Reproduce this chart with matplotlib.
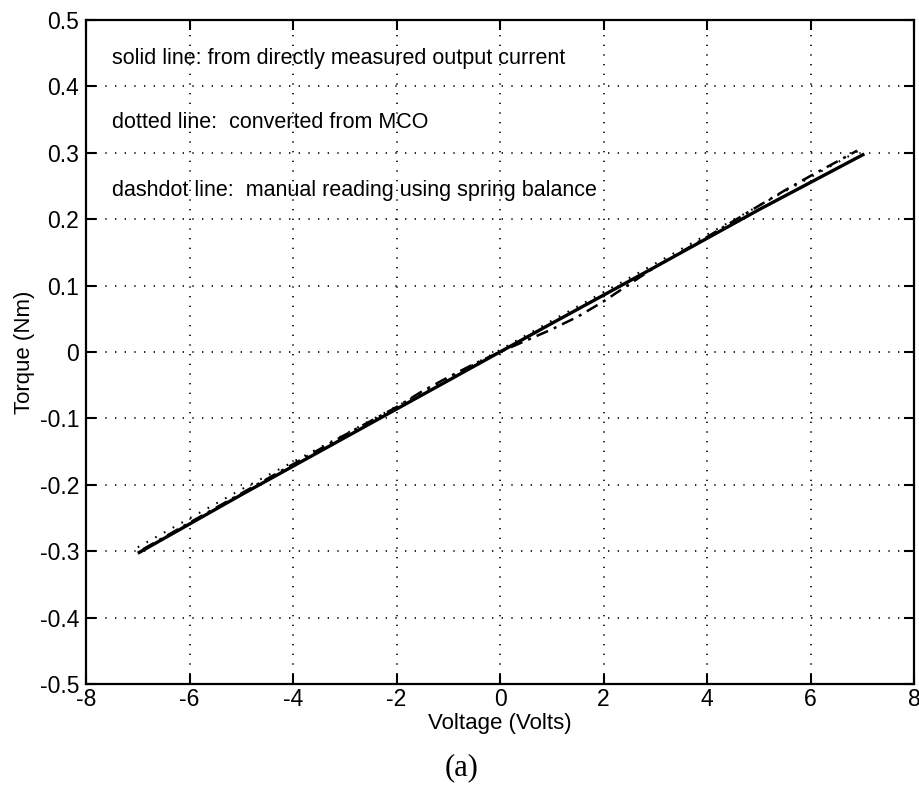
import matplotlib
matplotlib.use("Agg")
import matplotlib.pyplot as plt

# ---- data ----
solid_x = [-7.0, -5.0, -3.0, -1.0, 0.0, 1.0, 3.0, 5.0, 7.04]
solid_y = [-0.303, -0.215, -0.129, -0.043, 0.0, 0.043, 0.128, 0.214, 0.298]

dotted_x = [-7.0, -5.0, -3.0, -1.0, 0.0, 1.0, 3.0, 5.0, 7.05]
dotted_y = [-0.294, -0.207, -0.124, -0.040, 0.003, 0.047, 0.133, 0.220, 0.308]

dashdot_x = [-6.9, -6, -5, -4, -3, -2, -1.5, -1, -0.5, 0, 0.5, 1, 1.5, 2, 2.5, 3, 4, 5, 5.5, 6, 6.5, 6.9]
dashdot_y = [-0.297, -0.257, -0.213, -0.169, -0.125, -0.083, -0.059, -0.038, -0.018, 0.000,
             0.017, 0.034, 0.053, 0.076, 0.102, 0.128, 0.173, 0.220, 0.243, 0.265, 0.286, 0.303]

xticks = [-8, -6, -4, -2, 0, 2, 4, 6, 8]
xtick_labels = ['-8', '-6', '-4', '-2', '0', '2', '4', '6', '8']
yticks = [-0.5, -0.4, -0.3, -0.2, -0.1, 0, 0.1, 0.2, 0.3, 0.4, 0.5]
ytick_labels = ['-0.5', '-0.4', '-0.3', '-0.2', '-0.1', '0', '0.1', '0.2', '0.3', '0.4', '0.5']

notes = ["solid line: from directly measured output current",
         "dotted line:  converted from MCO",
         "dashdot line:  manual reading using spring balance"]
note_y = [0.442, 0.345, 0.243]

plt.rcParams['font.family'] = ['Liberation Sans', 'DejaVu Sans']
plt.rcParams['axes.unicode_minus'] = False

fig = plt.figure(figsize=(9.2, 7.9), dpi=100)
ax = fig.add_axes([0.0935, 0.134, 0.9, 0.841])

ax.plot(solid_x, solid_y, color='black', lw=2.4, solid_capstyle='butt')
ax.plot(dotted_x, dotted_y, color='black', lw=1.5, linestyle=(0, (0.8, 4.0)))
ax.plot(dashdot_x, dashdot_y, color='black', lw=1.8, linestyle=(0, (5, 2.5, 1.2, 2.5)))

ax.set_xlim(-8, 8)
ax.set_ylim(-0.5, 0.5)
ax.set_xticks(xticks)
ax.set_xticklabels(xtick_labels)
ax.set_yticks(yticks)
ax.set_yticklabels(ytick_labels)
ax.tick_params(direction='in', length=7, width=1.5, labelsize=16.5, top=True, right=True)
ax.tick_params(axis='x', pad=3)
ax.tick_params(axis='y', pad=5)
ax.grid(True, color='black', lw=1.2, linestyle=(0, (0.8, 5)))
for s in ax.spines.values():
    s.set_linewidth(1.6)

for t, y in zip(notes, note_y):
    ax.text(-7.5, y, t, fontsize=15.5, va='center', ha='left')

ax.set_xlabel('Voltage (Volts)', fontsize=16, labelpad=1)
ax.set_ylabel('Torque (Nm)', fontsize=16, labelpad=3)

fig.text(0.502, 0.028, '(a)', fontsize=22, family='Liberation Serif', ha='center', va='center')

fig.savefig('out.png', dpi=100)
